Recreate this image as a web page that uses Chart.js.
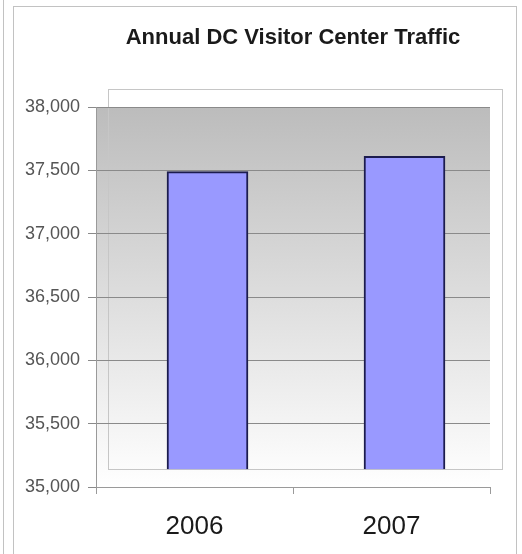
<!DOCTYPE html>
<html>
<head>
<meta charset="utf-8">
<title>Annual DC Visitor Center Traffic</title>
<script src="https://cdn.jsdelivr.net/npm/chart.js@4.4.1/dist/chart.umd.min.js"></script>
<style>
    html, body { margin: 0; padding: 0; background: #fff; }
    #wrap { width: 522px; height: 554px; }
</style>
</head>
<body>
<div id="wrap"><canvas id="trafficChart"></canvas></div>
<script>

/* =========================
   DATA
========================= */

const years = ["2006", "2007"];
const visitors = [37490, 37610];

const yMin = 35000;
const yMax = 38000;
const yStep = 500;

// bars stand on the raised "floor" of the 3-D wall, not on the axis
const barFloor = 35140;

/* =========================
   STYLE
========================= */

const DEPTH_X = 12;
const DEPTH_Y = 18;
const BAR_SHIFT = 0.066; // bars sit a little to the right, like the 3-D original

const plainFont = "'Liberation Sans', Arial, sans-serif";

/* =========================
   WALL + FRAMES
========================= */

const wallPlugin = {
    id: "wall",
    beforeDraw(chart) {
        const { ctx, chartArea: a } = chart;
        const w = a.right - a.left;
        const h = a.bottom - a.top;

        ctx.save();

        // outer chart borders
        ctx.strokeStyle = "#c2c2c2";
        ctx.lineWidth = 1;
        ctx.beginPath();
        ctx.moveTo(3.5, 0);
        ctx.lineTo(3.5, chart.height);
        ctx.stroke();
        ctx.strokeRect(13.5, 6.5, 503, chart.height + 20);

        // gradient wall
        const g = ctx.createLinearGradient(0, a.top, 0, a.bottom);
        g.addColorStop(0, "#bcbcbc");
        g.addColorStop(1, "#ffffff");
        ctx.fillStyle = g;
        ctx.fillRect(a.left, a.top, w, h);

        // back frame
        ctx.strokeStyle = "#c6c6c6";
        ctx.strokeRect(a.left + DEPTH_X + 0.5, a.top - DEPTH_Y + 0.5, w, h);

        ctx.restore();
    }
};

/* =========================
   CHART
========================= */

new Chart(document.getElementById("trafficChart"), {

    type: "bar",

    data: {
        labels: years,
        datasets: [{
            data: years.map((y, i) => ({ x: i, y: visitors[i] })),
            base: barFloor,
            xAxisID: "xb",
            yAxisID: "y",
            backgroundColor: "#9999ff",
            borderColor: "#1c1c4e",
            borderWidth: 2,
            barThickness: 81
        }]
    },

    options: {
        responsive: true,
        maintainAspectRatio: false,
        animation: false,
        layout: {
            padding: { left: 0, right: 32, top: 0, bottom: 0 }
        },
        plugins: {
            legend: { display: false },
            tooltip: { enabled: false },
            title: {
                display: true,
                text: "Annual DC Visitor Center Traffic",
                fullSize: false,
                color: "#1a1a1a",
                font: { family: plainFont, size: 22, weight: "bold" },
                padding: { top: 25, bottom: 55.6 }
            }
        },
        scales: {
            x: {
                type: "category",
                offset: true,
                grid: {
                    offset: true,
                    drawOnChartArea: false,
                    tickLength: 7,
                    color: "#9a9a9a"
                },
                border: { color: "#9a9a9a" },
                ticks: {
                    color: "#1a1a1a",
                    font: { family: plainFont, size: 26 },
                    padding: 17
                },
                afterFit(scale) { scale.height = 67; }
            },
            xb: {
                type: "linear",
                display: false,
                offset: false,
                grid: { offset: false },
                min: -0.5 - BAR_SHIFT,
                max: 1.5 - BAR_SHIFT
            },
            y: {
                min: yMin,
                max: yMax,
                grid: {
                    color: "#8a8a8a",
                    tickLength: 8
                },
                border: { color: "#9a9a9a" },
                ticks: {
                    stepSize: yStep,
                    color: "#555",
                    padding: 8,
                    font: { family: plainFont, size: 18 },
                    callback: v => Number(v).toLocaleString("en-US")
                },
                afterFit(scale) { scale.width = 96; }
            }
        }
    },

    plugins: [wallPlugin]

});

</script>
</body>
</html>
